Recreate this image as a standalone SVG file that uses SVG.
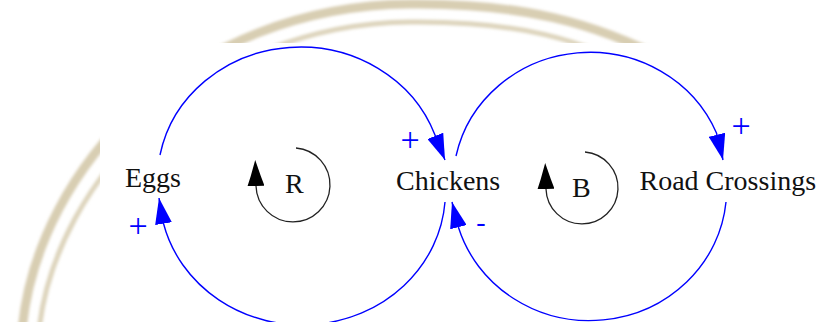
<svg xmlns="http://www.w3.org/2000/svg" width="822" height="322" viewBox="0 0 822 322">
  <style>
    .lbl { font-family: "Liberation Serif", "Times New Roman", serif; font-size: 28px; fill: #111; }
    .pol { font-family: "Liberation Serif", "Times New Roman", serif; fill: #0000ff; text-anchor: middle; }
    .link { fill: none; stroke: #0000ff; stroke-width: 1.4; marker-end: url(#blueArrow); }
    .loop { fill: none; stroke: #222; stroke-width: 1.3; marker-end: url(#blackArrow); }
    .ring { fill: none; }
  </style>
  <defs>
    <marker id="blueArrow" markerUnits="userSpaceOnUse" viewBox="0 0 26 17" markerWidth="26" markerHeight="17" refX="26" refY="8.5" orient="auto">
      <path d="M0,0 L26,8.5 L0,17 Z" fill="#0000ff"/>
    </marker>
    <marker id="blackArrow" markerUnits="userSpaceOnUse" viewBox="0 0 26 17" markerWidth="26" markerHeight="17" refX="0" refY="8.5" orient="auto">
      <path d="M0,0 L10,3.5 L26,8.5 L10,13.5 L0,17 Z" fill="#000"/>
    </marker>
    <filter id="soft" x="-10%" y="-10%" width="120%" height="120%">
      <feGaussianBlur stdDeviation="1.6"/>
    </filter>
  </defs>

  <!-- background watermark -->
  <rect x="0" y="0" width="822" height="322" fill="#ffffff"/>
  <g id="watermark" filter="url(#soft)">
    <path class="ring" d="M22,330 C38,165 190,6 410,4 C520,3 595,22 670,62" stroke="#d8ceb2" stroke-width="9"/>
    <path class="ring" d="M39,330 C56,178 205,24 410,22 C515,21 585,38 650,78" stroke="#ddd4bc" stroke-width="5"/>
  </g>
  <rect id="canvas" x="100" y="43" width="722" height="279" fill="#ffffff"/>

  <g id="connectors">
    <path id="eggs-chickens" class="link" d="M160,155 A143,133 0 0 1 435,135 L445,160"/>
    <path id="chickens-eggs" class="link" d="M445,202 A143,133 0 0 1 163.5,223.5 L159,198"/>
    <path id="chickens-road" class="link" d="M456,156 A137,131 0 0 1 716.5,133 L723,160"/>
    <path id="road-chickens" class="link" d="M726,202 A137,131 0 0 1 458.5,227.5 L452,202"/>
    <text class="pol" x="410" y="150.5" font-size="34">+</text>
    <text class="pol" x="138" y="236.5" font-size="34">+</text>
    <text class="pol" x="741" y="136.5" font-size="34">+</text>
    <text class="pol" x="481" y="231.3" font-size="28">-</text>
  </g>

  <g id="node-eggs">
    <text class="lbl" x="125" y="187">Eggs</text>
  </g>
  <g id="node-chickens">
    <text class="lbl" x="396" y="190">Chickens</text>
  </g>
  <g id="node-road-crossings">
    <text class="lbl" x="639.5" y="190">Road Crossings</text>
  </g>

  <g id="loop-R">
    <path class="loop" d="M296,148 A37,37 0 1 1 256,186"/>
    <text class="lbl" x="285" y="193">R</text>
  </g>
  <g id="loop-B">
    <path class="loop" d="M585,152 A36,36 0 1 1 546,189"/>
    <text class="lbl" x="572" y="197">B</text>
  </g>
</svg>
